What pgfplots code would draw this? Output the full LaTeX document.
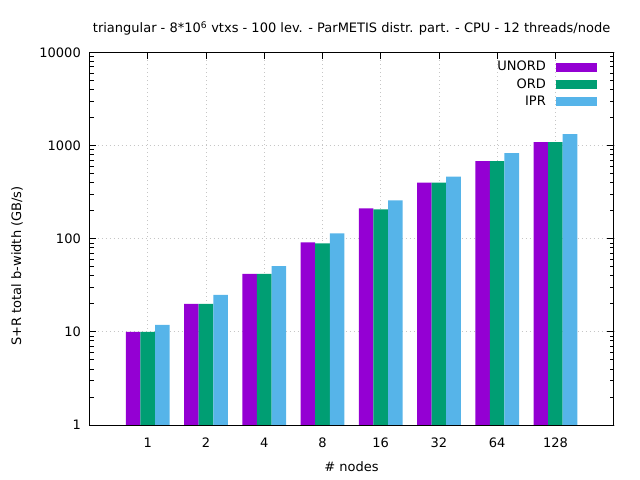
\documentclass[border=0pt]{standalone}
\usepackage{fontspec}
\setmainfont{DejaVu Sans}
\usepackage{pgfplots}
\pgfplotsset{compat=1.18}
\definecolor{cU}{HTML}{9400D3}
\definecolor{cO}{HTML}{009E73}
\definecolor{cI}{HTML}{56B4E9}
\begin{document}
\fontsize{13bp}{15bp}\selectfont
\begin{tikzpicture}
\useasboundingbox (0bp,0bp) rectangle (640bp,480bp);
\begin{axis}[
  at={(89.5bp,55bp)}, anchor=south west,
  scale only axis, width=524.2bp, height=372.7bp,
  xmin=-1, xmax=8,
  ymode=log, ymin=1, ymax=10000,
  ybar=0pt, bar width=0.25,
  xtick={0,1,2,3,4,5,6,7},
  xticklabels={1,2,4,8,16,32,64,128},
  ytick={1,10,100,1000,10000},
  yticklabels={1,10,100,1000,10000},
  minor ytick={2,3,4,5,6,7,8,9,20,30,40,50,60,70,80,90,200,300,400,500,600,700,800,900,2000,3000,4000,5000,6000,7000,8000,9000},
  grid=major,
  major grid style={gray!45, dash pattern=on 1bp off 3bp, line width=0.8bp},
  axis line style={line width=0.9bp, black},
  tick style={black, line width=0.8bp},
  major tick length=6.7bp, minor tick length=4bp,
  tick align=inside,
  xticklabel style={anchor=base, yshift=-22bp, inner sep=0pt},
  yticklabel style={anchor=east, xshift=-8.5bp, inner sep=0pt},
  legend plot pos=right,
  legend cell align=right,
  legend style={draw=none, fill=none, inner sep=0pt,
    at={(rel axis cs:1,1)}, anchor=north east, xshift=-16.7bp, yshift=-9bp,
    row sep=5.5bp,
    nodes={inner sep=0pt, text height=9.5bp, text depth=2.2bp},
    /tikz/every odd column/.append style={column sep=10bp}},
]
\addplot[fill=cU, draw=none, legend image code/.code={\fill[cU] (0bp,-4.35bp) rectangle (41bp,4.35bp);}]
  coordinates {(0,10) (1,20) (2,42) (3,91) (4,211) (5,400) (6,680) (7,1085)};
\addplot[fill=cO, draw=none, legend image code/.code={\fill[cO] (0bp,-4.35bp) rectangle (41bp,4.35bp);}]
  coordinates {(0,10) (1,20) (2,42) (3,89) (4,206) (5,400) (6,680) (7,1085)};
\addplot[fill=cI, draw=none, legend image code/.code={\fill[cI] (0bp,-4.35bp) rectangle (41bp,4.35bp);}]
  coordinates {(0,11.9) (1,24.9) (2,50.8) (3,114) (4,257) (5,464) (6,827) (7,1321)};
\legend{UNORD, ORD, IPR}
\end{axis}
\node[anchor=base] at (351.6bp,447bp) {triangular - 8*10\textsuperscript{6} vtxs - 100 lev. - ParMETIS distr. part. - CPU - 12 threads/node};
\node at (351.6bp,13bp) {\# nodes};
\node[rotate=90] at (17bp,214bp) {S+R total b-width (GB/s)};
\end{tikzpicture}
\end{document}
